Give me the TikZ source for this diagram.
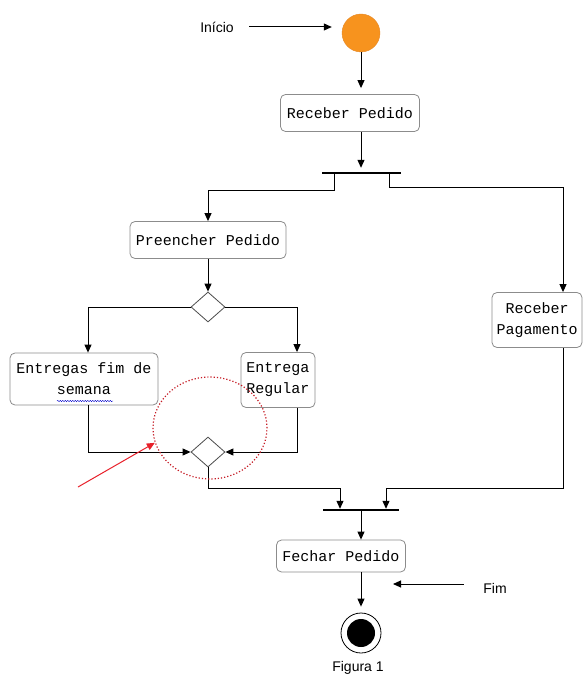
\documentclass[tikz,border=0pt]{standalone}
\usepackage{fontspec}
\setmainfont{Liberation Sans}
\newfontfamily\monofont{Liberation Mono}
\usetikzlibrary{arrows.meta,shapes.geometric,decorations.pathmorphing}
\definecolor{laranja}{HTML}{F7931E}
\definecolor{laranjaborda}{HTML}{E58A2A}
\definecolor{vermelho}{HTML}{E8202A}

\begin{document}
\begin{tikzpicture}[x=1pt, y=-1pt]
\useasboundingbox (0,0) rectangle (582,679);

\tikzset{atividade/.style={rectangle, rounded corners=5pt, draw=black!45, fill=white, line width=0.8pt, inner sep=2pt, align=center, font=\monofont\fontsize{15}{21}\selectfont}}
\tikzset{decisao/.style={diamond, draw=black!70, fill=white, line width=0.8pt, minimum width=34pt, minimum height=30pt, inner sep=0pt}}
\tikzset{barra/.style={rectangle, fill=black, inner sep=0pt, minimum height=2pt}}
\tikzset{rotulo/.style={font=\fontsize{14}{16}\selectfont}}
\node (inicio) [circle, fill=laranja, draw=laranjaborda, minimum size=38pt, inner sep=0pt] at (361,33) {};
\node (receber) [atividade, minimum width=139pt, minimum height=37pt] at (350,113) {Receber Pedido};
\node (fork) [barra, minimum width=79pt] at (361,173) {};
\node (preencher) [atividade, minimum width=156pt, minimum height=37pt] at (208,240) {Preencher Pedido};
\node (pagamento) [atividade, minimum width=90pt, minimum height=55pt] at (537,320) {Receber\\Pagamento};
\node (escolha) [decisao] at (208,307) {};
\node (fimsemana) [atividade, minimum width=148pt, minimum height=52pt] at (84,379) {Entregas fim de\\semana};
\node (regular) [atividade, minimum width=74pt, minimum height=55pt] at (278,380) {Entrega\\Regular};
\node (juncao) [decisao] at (208,452) {};
\node (join) [barra, minimum width=76pt] at (361,510) {};
\node (fechar) [atividade, minimum width=129pt, minimum height=32pt] at (341,556) {Fechar Pedido};
\node (final) [circle, draw, line width=0.8pt, minimum size=40pt, inner sep=0pt] at (361,633) {};
\node (nucleo) [circle, fill=black, minimum size=28pt, inner sep=0pt] at (final) {};

\node (lblinicio) [rotulo] at (217,27) {Início};
\node (lblfim) [rotulo] at (495,588) {Fim};
\node (figura) [rotulo] at (358,668) {Figura 1};
\coordinate (fimponta) at (393,584);
\coordinate (seta) at (78,487);

\tikzset{fluxo/.style={-{Triangle[length=8pt,width=7pt]}, line width=1pt}}
\draw[fluxo, shorten <=12pt, shorten >=10pt] (lblinicio.east) -- (lblinicio.east -| inicio.west);
\draw[fluxo, shorten >=6pt] (inicio) -- (receber.north -| inicio);
\draw[fluxo, shorten >=4pt] (receber.south -| inicio) -- (fork.north);
\draw[fluxo] ([xshift=-27pt]fork.south) -- ++(0,16) -| (preencher.north);
\draw[fluxo] ([xshift=28pt]fork.south) -- ++(0,13) -| ([xshift=26pt]pagamento.north);
\draw[fluxo] (preencher) -- (escolha);
\draw[fluxo] (escolha.west) -| ([xshift=4pt]fimsemana.north);
\draw[fluxo] (escolha.east) -| ([xshift=19pt]regular.north);
\draw[fluxo] ([xshift=4pt]fimsemana.south) |- (juncao.west);
\draw[fluxo] ([xshift=19pt]regular.south) |- (juncao.east);
\draw[fluxo] (juncao.south) -- ++(0,21) -| ([xshift=-21pt]join.north);
\draw[fluxo] ([xshift=26pt]pagamento.south) -- ++(0,141) -| ([xshift=25pt]join.north);
\draw[fluxo] (join.south -| final) -- (fechar.north -| final);
\draw[fluxo, shorten >=6pt] (fechar.south -| final) -- (final.north);
\draw[fluxo, shorten <=16pt] (lblfim.west |- fimponta) -- (fimponta);

% destaque em vermelho
\node (destaque) [ellipse, draw=vermelho!85!black, dotted, line width=1.2pt, minimum width=114pt, minimum height=102pt] at (210,428) {};
\draw[fluxo, vermelho, line width=1pt] (seta) -- (destaque.195);
\draw[blue!80!black, decorate, decoration={snake, amplitude=0.7pt, segment length=2.5pt}] (57,401) -- (113,401);
\end{tikzpicture}
\end{document}
